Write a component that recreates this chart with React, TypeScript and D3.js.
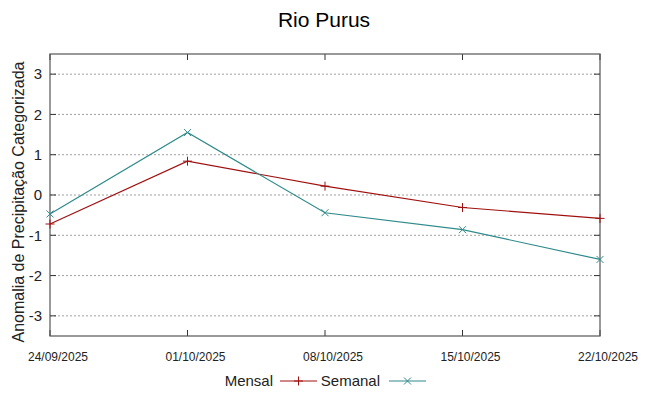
import React, { useEffect, useRef } from "react";
import * as d3 from "d3";

const dates = ["24/09/2025", "01/10/2025", "08/10/2025", "15/10/2025", "22/10/2025"];
const mensal = [-0.72, 0.84, 0.22, -0.31, -0.58];
const semanal = [-0.47, 1.55, -0.44, -0.86, -1.6];
const yTicks = [-3, -2, -1, 0, 1, 2, 3];

const W = 648, H = 396;
const margin = { l: 50, r: 48, t: 54, b: 60 };
const FONT = "Liberation Sans, Arial, sans-serif";

export default function App() {
  const ref = useRef<SVGSVGElement>(null);

  useEffect(() => {
    const svg = d3.select(ref.current);
    svg.selectAll("*").remove();
    const iw = W - margin.l - margin.r;
    const ih = H - margin.t - margin.b;

    const x = d3.scalePoint().domain(dates).range([0, iw]);
    const y = d3.scaleLinear().domain([-3.5, 3.5]).range([ih, 0]);

    svg.append("text")
      .attr("x", W / 2).attr("y", 27)
      .attr("text-anchor", "middle")
      .style("font-family", FONT).style("font-size", "21px")
      .text("Rio Purus");

    const g = svg.append("g").attr("transform", `translate(${margin.l},${margin.t})`);

    // grid
    g.selectAll(".grid").data(yTicks).enter().append("line")
      .attr("x1", 0).attr("x2", iw)
      .attr("y1", d => y(d)).attr("y2", d => y(d))
      .attr("stroke", "#a0a0a0").attr("stroke-width", 1)
      .attr("stroke-dasharray", "2,2");

    // y ticks both sides
    g.selectAll(".ytl").data(yTicks).enter().append("line")
      .attr("x1", 0).attr("x2", 6).attr("y1", d => y(d)).attr("y2", d => y(d))
      .attr("stroke", "#333");
    g.selectAll(".ytr").data(yTicks).enter().append("line")
      .attr("x1", iw - 6).attr("x2", iw).attr("y1", d => y(d)).attr("y2", d => y(d))
      .attr("stroke", "#333");
    g.selectAll(".ylab").data(yTicks).enter().append("text")
      .attr("x", -8).attr("y", d => y(d)).attr("dy", "0.35em")
      .attr("text-anchor", "end")
      .style("font-family", FONT).style("font-size", "15px").attr("fill", "#222")
      .text(d => String(d));

    // x ticks top and bottom
    g.selectAll(".xtb").data(dates).enter().append("line")
      .attr("x1", d => x(d)!).attr("x2", d => x(d)!).attr("y1", ih).attr("y2", ih - 6)
      .attr("stroke", "#333");
    g.selectAll(".xtt").data(dates).enter().append("line")
      .attr("x1", d => x(d)!).attr("x2", d => x(d)!).attr("y1", 0).attr("y2", 6)
      .attr("stroke", "#333");
    g.selectAll(".xlab").data(dates).enter().append("text")
      .attr("x", d => x(d)! + 8).attr("y", ih + 25)
      .attr("text-anchor", "middle")
      .style("font-family", FONT).style("font-size", "12px").attr("fill", "#222")
      .text(d => d);

    // border
    g.append("rect").attr("width", iw).attr("height", ih)
      .attr("fill", "none").attr("stroke", "#555").attr("stroke-width", 1.2);

    // y axis title
    svg.append("text")
      .attr("transform", `translate(24,${margin.t + ih / 2 + 7}) rotate(-90)`)
      .attr("text-anchor", "middle")
      .style("font-family", FONT).style("font-size", "16px").attr("fill", "#222")
      .text("Anomalia de Precipitação Categorizada");

    const line = d3.line<number>().x((_, i) => x(dates[i])!).y(d => y(d));
    const series = [
      { name: "Mensal", values: mensal, color: "#a01010", mark: "plus" },
      { name: "Semanal", values: semanal, color: "#2f8a8a", mark: "cross" },
    ];

    const mark = (sel: any, cx: number, cy: number, kind: string, color: string) => {
      const s = 4.5;
      if (kind === "plus") {
        sel.append("line").attr("x1", cx - s).attr("x2", cx + s).attr("y1", cy).attr("y2", cy).attr("stroke", color);
        sel.append("line").attr("x1", cx).attr("x2", cx).attr("y1", cy - s).attr("y2", cy + s).attr("stroke", color);
      } else {
        const c = 3.5;
        sel.append("line").attr("x1", cx - c).attr("x2", cx + c).attr("y1", cy - c).attr("y2", cy + c).attr("stroke", color);
        sel.append("line").attr("x1", cx - c).attr("x2", cx + c).attr("y1", cy + c).attr("y2", cy - c).attr("stroke", color);
      }
    };

    series.forEach(s => {
      g.append("path").datum(s.values).attr("d", line)
        .attr("fill", "none").attr("stroke", s.color).attr("stroke-width", 1.2);
      s.values.forEach((v, i) => mark(g, x(dates[i])!, y(v), s.mark, s.color));
    });

    // legend
    const ly = 381;
    const leg = svg.append("g");
    const items = [
      { tx: 273, lx1: 280, lx2: 317 },
      { tx: 380, lx1: 389, lx2: 426 },
    ];
    series.forEach((s, i) => {
      const it = items[i];
      leg.append("text").attr("x", it.tx).attr("y", ly).attr("dy", "0.35em")
        .attr("text-anchor", "end")
        .style("font-family", FONT).style("font-size", "15px").attr("fill", "#222")
        .text(s.name);
      leg.append("line").attr("x1", it.lx1).attr("x2", it.lx2).attr("y1", ly).attr("y2", ly)
        .attr("stroke", s.color).attr("stroke-width", 1.2);
      mark(leg, (it.lx1 + it.lx2) / 2, ly, s.mark, s.color);
    });
  }, []);

  return (
    <svg ref={ref} width={W} height={H}
      style={{ position: "absolute", left: 0, top: 0, background: "#fff" }} />
  );
}
